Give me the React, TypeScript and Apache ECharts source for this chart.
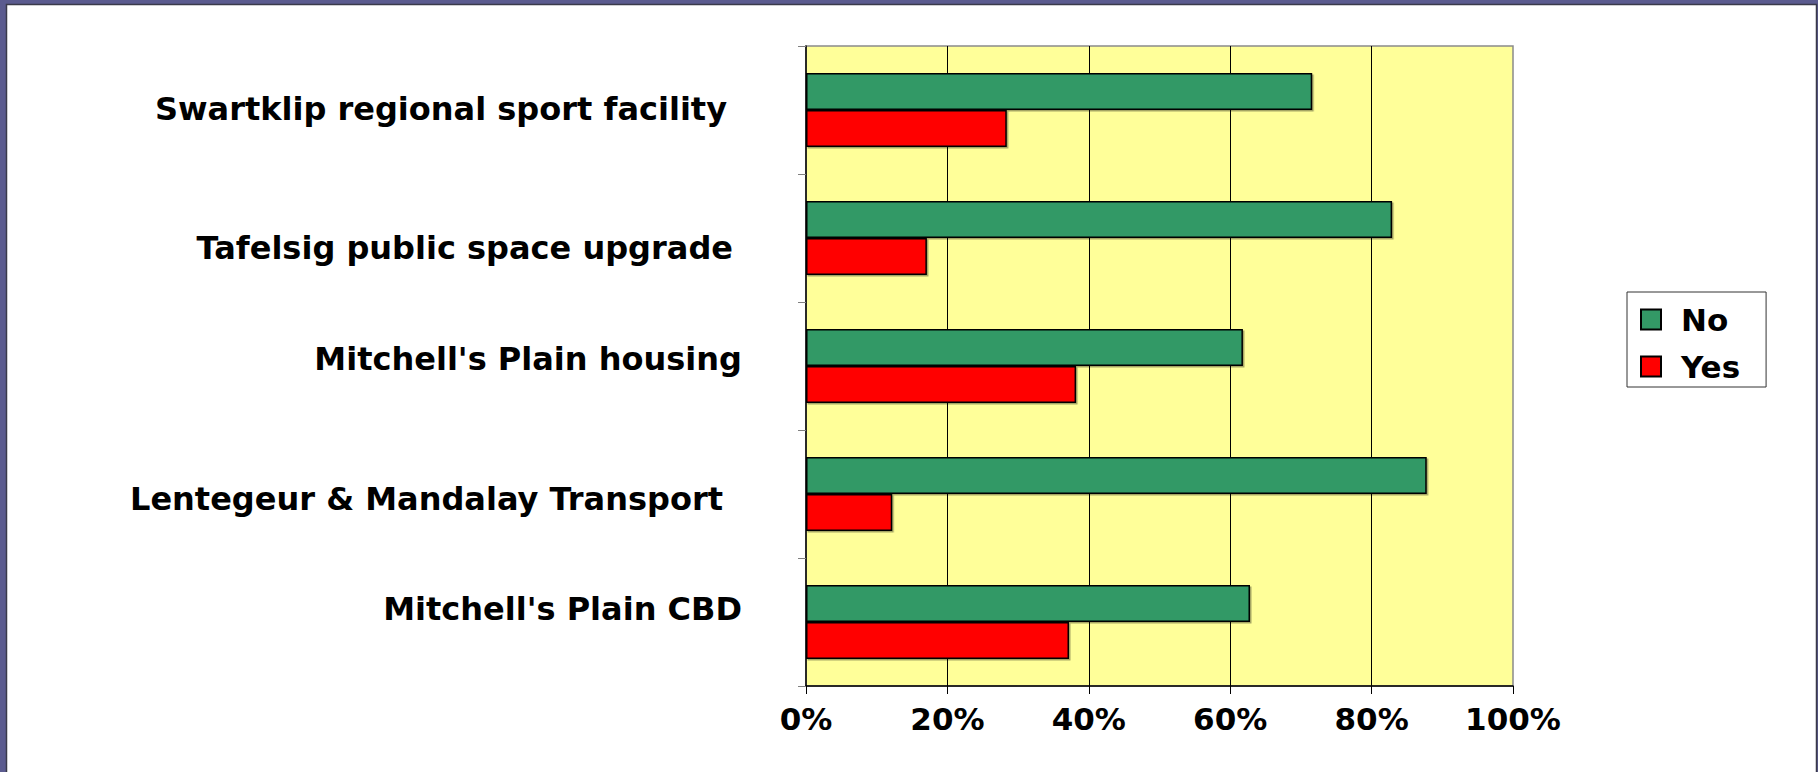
import React, { useEffect, useRef } from "react";
import * as echarts from "echarts";

// Categories, bottom to top as on the axis
const categories = [
  "Mitchell's Plain CBD",
  "Lentegeur & Mandalay Transport",
  "Mitchell's Plain housing",
  "Tafelsig public space upgrade",
  "Swartklip regional sport facility",
];
const noValues = [62.8, 87.8, 61.8, 82.9, 71.6];
const yesValues = [37.2, 12.2, 38.2, 17.1, 28.4];
const xTicks = [0, 20, 40, 60, 80, 100];
const seriesNames = ["No", "Yes"];

const FONT = "'DejaVu Sans', Verdana, sans-serif";

// Label nudges (layout only): vertical shift (px, + = down) and right gap (px)
const labelShift = [-13, 5, -7, 10, -1];
const labelRightGap = [0, 19, 0, 9, 15];

export default function App() {
  const ref = useRef<HTMLDivElement>(null);
  useEffect(() => {
    if (!ref.current) return;
    const chart = echarts.init(ref.current, undefined, { renderer: "svg" });
    const barStyle = (color: string) => ({
      color,
      borderColor: "#000",
      borderWidth: 1.5,
      shadowColor: "rgba(0,0,0,0.35)",
      shadowOffsetX: 1.5,
      shadowOffsetY: 1.5,
      shadowBlur: 0,
    });
    const rich: Record<string, any> = {};
    categories.forEach((_, i) => {
      const d = labelShift[i];
      rich["c" + i] = {
        fontFamily: FONT,
        fontWeight: "bold",
        fontSize: 32,
        color: "#000",
        padding: d >= 0 ? [2 * d, labelRightGap[i], 0, 0] : [0, labelRightGap[i], -2 * d, 0],
      };
    });
    chart.setOption({
      animation: false,
      backgroundColor: "#5b5b8f",
      graphic: [
        {
          type: "rect",
          z: -100,
          shape: { x: 6.5, y: 4.5, width: 1810, height: 800 },
          style: { fill: "#ffffff", stroke: "#3a3a4a", lineWidth: 1.5 },
        },
      ],
      grid: {
        left: 806,
        top: 46,
        width: 707,
        height: 640,
        show: true,
        backgroundColor: "#FFFF99",
        borderColor: "#8a8a8a",
        borderWidth: 1.5,
      },
      legend: {
        data: seriesNames,
        orient: "vertical",
        left: 1627,
        top: 292,
        icon: "rect",
        itemWidth: 20,
        itemHeight: 20,
        itemGap: 16,
        padding: [12, 26, 5, 13],
        borderColor: "#333",
        borderWidth: 1,
        backgroundColor: "#fff",
        textStyle: {
          fontFamily: FONT,
          fontWeight: "bold",
          fontSize: 31,
          lineHeight: 31,
          color: "#000",
          padding: [0, 0, 0, 15],
        },
      },
      xAxis: {
        type: "value",
        min: xTicks[0],
        max: xTicks[xTicks.length - 1],
        interval: xTicks[1] - xTicks[0],
        axisLine: { show: true, lineStyle: { color: "#000", width: 1.5 } },
        axisTick: { show: true, length: 8, lineStyle: { color: "#000", width: 1 } },
        axisLabel: {
          formatter: "{value}%",
          fontFamily: FONT,
          fontWeight: "bold",
          fontSize: 31,
          color: "#000",
          margin: 17,
        },
        splitLine: {
          show: true,
          showMinLine: false,
          showMaxLine: false,
          lineStyle: { color: "#000", width: 1 },
        },
      },
      yAxis: {
        type: "category",
        data: categories,
        axisLine: { show: true, lineStyle: { color: "#000", width: 1.5 } },
        axisTick: { show: true, length: 8, lineStyle: { color: "#808080", width: 1 } },
        axisLabel: {
          fontFamily: FONT,
          fontWeight: "bold",
          fontSize: 32,
          color: "#000",
          margin: 64,
          formatter: (value: string, index: number) => `{c${index}|${value}}`,
          rich,
        },
        splitLine: { show: false },
      },
      series: [
        {
          name: seriesNames[0],
          type: "bar",
          data: noValues,
          barGap: "0%",
          barCategoryGap: "42%",
          itemStyle: barStyle("#339966"),
        },
        {
          name: seriesNames[1],
          type: "bar",
          data: yesValues,
          barGap: "0%",
          barCategoryGap: "42%",
          itemStyle: barStyle("#FF0000"),
        },
      ],
    });
    return () => chart.dispose();
  }, []);
  return (
    <div
      ref={ref}
      style={{ position: "fixed", left: 0, top: 0, width: 1818, height: 772 }}
    />
  );
}
